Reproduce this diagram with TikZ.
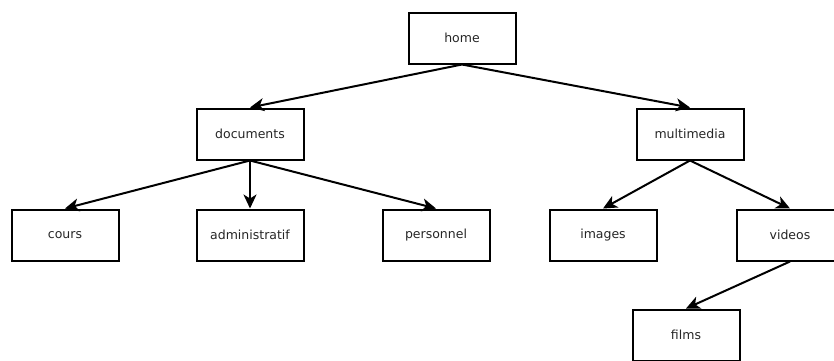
\documentclass[tikz,border=0pt]{standalone}
\usepackage{fontspec}
\setmainfont{DejaVu Sans}
\usetikzlibrary{arrows.meta}
\tikzset{
  dir/.style={draw, rectangle, minimum width=107pt, minimum height=51pt,
    line width=2pt, font=\fontsize{12.5}{15}\selectfont, text=black!85},
  link/.style={-{Stealth[length=14pt,width=13pt,inset=4pt]}, line width=2pt}
}
\begin{document}
\begin{tikzpicture}[x=1pt, y=-1pt]
    \clip (0,0) rectangle (834,360);
    \node[dir] (home)          at (462,38)  {home};
    \node[dir] (documents)     at (250,134) {documents};
    \node[dir] (multimedia)    at (690,134) {multimedia};
    \node[dir] (cours)         at (65,235)  {cours};
    \node[dir] (administratif) at (250,235) {administratif};
    \node[dir] (personnel)     at (436,235) {personnel};
    \node[dir] (images)        at (603,235) {images};
    \node[dir] (videos)        at (790,235) {videos};
    \node[dir] (films)         at (686,335) {films};
    \draw[link] (home.south) -- (documents.north);
    \draw[link] (home.south) -- (multimedia.north);
    \draw[link] (documents.south) -- (cours.north);
    \draw[link] (documents.south) -- (administratif.north);
    \draw[link] (documents.south) -- (personnel.north);
    \draw[link] (multimedia.south) -- (images.north);
    \draw[link] (multimedia.south) -- (videos.north);
    \draw[link] (videos.south) -- (films.north);
\end{tikzpicture}
\end{document}
